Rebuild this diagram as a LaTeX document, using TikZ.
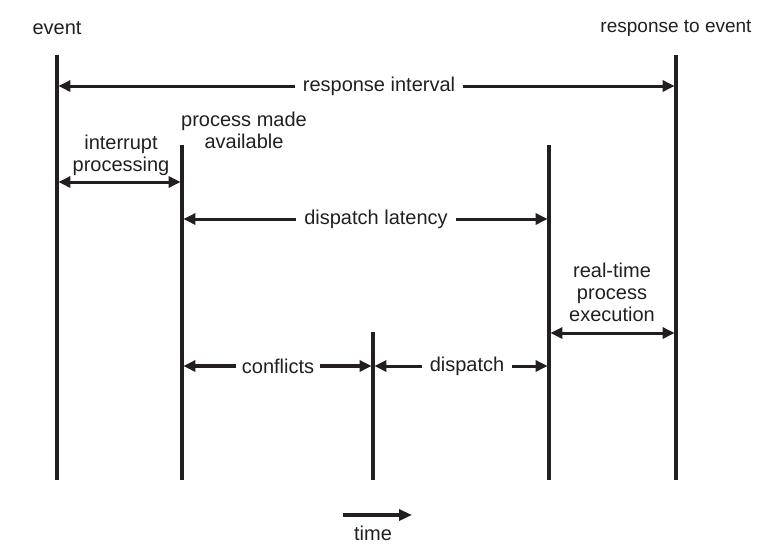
\documentclass[tikz,border=0pt]{standalone}
\usepackage{fontspec}
\setmainfont{Liberation Sans}
\usetikzlibrary{arrows.meta}
\definecolor{ink}{RGB}{35,31,32}
\begin{document}
\begin{tikzpicture}[x=1pt,y=-1pt,
  vline/.style={draw=ink,line width=3.1pt},
  harrow/.style={draw=ink,line width=3pt,-{Triangle[length=12pt,width=11pt]},shorten >=1.4pt},
  boldarrow/.style={harrow,line width=3.8pt},
  lbl/.style={font=\fontsize{20}{22}\selectfont,text=ink,inner xsep=8pt,inner ysep=0pt},
  txt/.style={font=\fontsize{20}{22}\selectfont,text=ink,align=center,inner sep=0pt}]
\useasboundingbox (0,0) rectangle (778,558);
% vertical lines
\coordinate (e1t) at (57,55);  \coordinate (e1b) at (57,480);
\coordinate (p2t) at (182,145); \coordinate (p2b) at (182,480);
\coordinate (c3t) at (373,332); \coordinate (c3b) at (373,480);
\coordinate (d4t) at (549,145); \coordinate (d4b) at (549,480);
\coordinate (r5t) at (676,55);  \coordinate (r5b) at (676,480);
\foreach \a/\b in {e1t/e1b,p2t/p2b,c3t/c3b,d4t/d4b,r5t/r5b} \draw[vline] (\a) -- (\b);
% two-headed arrow end coordinates
\coordinate (ip1) at (57,182); \coordinate (ip2) at (182,182);
\coordinate (rt1) at (549,333); \coordinate (rt2) at (676,333);
% labels
\node[txt] (event) at (57,28) {event};
\node[txt,font=\fontsize{19}{22}\selectfont] (resp) at (676,28) {response to event};
\node[lbl] (rint) at (379,86) {response interval};
\node[txt] (intp) at (121,155) {interrupt\\processing};
\node[txt] (pma) at (244,130) {process made\\available};
\node[lbl] (dlat) at (376,219) {dispatch latency};
\node[txt] (rtpe) at (612,292) {real-time\\process\\execution};
\node[lbl,inner xsep=6pt] (conf) at (278,366) {conflicts};
\node[lbl] (disp) at (467,366) {dispatch};
% arrows
\draw[harrow] (rint.west) -- (rint.west -| e1t);
\draw[harrow] (rint.east) -- (rint.east -| r5t);
\draw[harrow,{Triangle[length=12pt,width=11pt]}-{Triangle[length=12pt,width=11pt]},shorten <=1.4pt] (ip1) -- (ip2);
\draw[harrow] (dlat.west) -- (dlat.west -| p2t);
\draw[harrow] (dlat.east) -- (dlat.east -| d4t);
\draw[harrow,{Triangle[length=12pt,width=11pt]}-{Triangle[length=12pt,width=11pt]},shorten <=1.4pt] (rt1) -- (rt2);
\draw[boldarrow] (conf.west) -- (conf.west -| p2t);
\draw[boldarrow] (conf.east) -- (conf.east -| c3t);
\draw[harrow] (disp.west) -- (disp.west -| c3t);
\draw[harrow] (disp.east) -- (disp.east -| d4t);
% time arrow
\coordinate (t1) at (343,515); \coordinate (t2) at (412,515);
\draw[draw=ink,line width=3.4pt,-{Triangle[length=13pt,width=11pt]}] (t1) -- (t2);
\node[txt] (time) at (373,533) {time};
\end{tikzpicture}
\end{document}
